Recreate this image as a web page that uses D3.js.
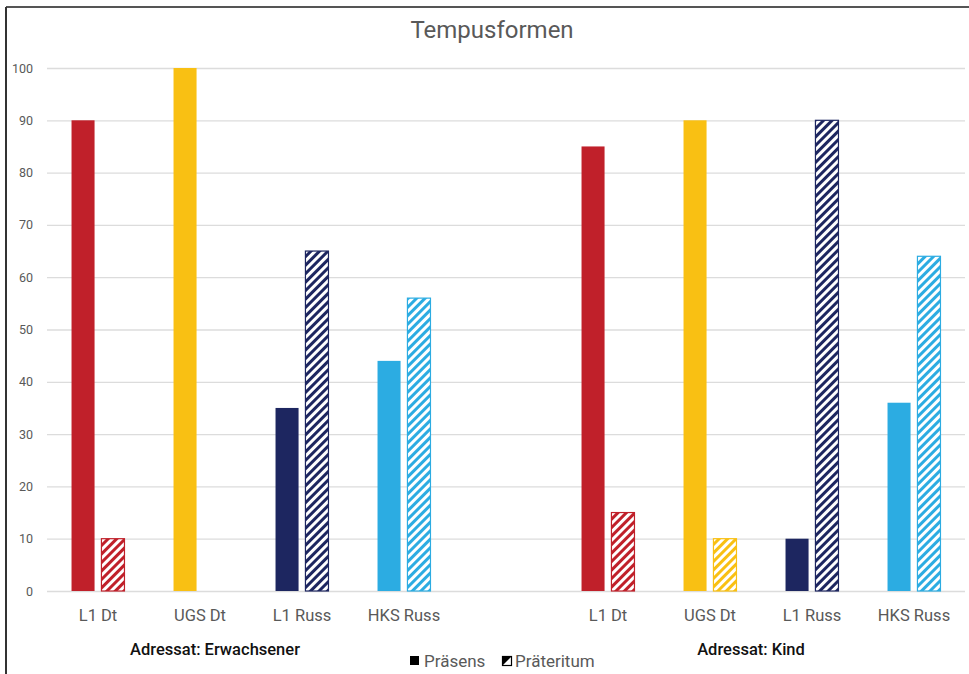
<!DOCTYPE html>
<html>
<head>
<meta charset="utf-8">
<script src="https://cdn.jsdelivr.net/npm/d3@7"></script>
<style>
  body { margin: 0; background: #fff; }
  svg { display: block; font-family: Roboto, "Open Sans", sans-serif; }
</style>
</head>
<body>
<svg id="chart"></svg>
<script>
// Data
const groups = ["Adressat: Erwachsener", "Adressat: Kind"];
const speakers = ["L1 Dt", "UGS Dt", "L1 Russ", "HKS Russ"];
const tenses = ["Präsens", "Präteritum"];
const praesens = [90, 100, 35, 44, 85, 90, 10, 36];
const praeteritum = [10, 0, 65, 56, 15, 10, 90, 64];
const speakerColors = ["#C0202A", "#F9C013", "#1D2660", "#2CACE2"];
const yTicks = [0, 10, 20, 30, 40, 50, 60, 70, 80, 90, 100];

const w = 969;
const h = 674;
const plotLeft = 47, plotRight = 965, plotTop = 68, plotBottom = 591;
const groupLabelX = [215, 751];

const svg = d3.select("#chart").attr("width", w).attr("height", h);

// one slot per speaker and group, with an empty slot between the groups
const slots = [];
groups.forEach((g, gi) => {
  if (gi > 0) slots.push("gap" + gi);
  speakers.forEach((s) => slots.push(g + "|" + s));
});

const rows = [];
groups.forEach((g, gi) => {
  speakers.forEach((s, si) => {
    const i = gi * speakers.length + si;
    rows.push({ slot: g + "|" + s, group: g, speaker: s, si: si, tense: tenses[0], value: praesens[i] });
    rows.push({ slot: g + "|" + s, group: g, speaker: s, si: si, tense: tenses[1], value: praeteritum[i] });
  });
});

const x0 = d3.scaleBand().domain(slots).range([plotLeft, plotRight]).paddingInner(0);
const x1 = d3.scaleBand().domain(tenses).range([0, x0.bandwidth()])
  .paddingInner(0.23).paddingOuter(0.82);
const y = d3.scaleLinear().domain([0, 100]).range([plotBottom, plotTop]);

// hatch patterns
const defs = svg.append("defs");
speakerColors.forEach((c, i) => {
  const p = defs.append("pattern")
    .attr("id", "hatch" + i)
    .attr("patternUnits", "userSpaceOnUse")
    .attr("width", 6).attr("height", 6)
    .attr("patternTransform", "rotate(45)");
  p.append("rect").attr("width", 6).attr("height", 6).attr("fill", "#fff");
  p.append("rect").attr("width", 3).attr("height", 6).attr("fill", c);
});

// outer frame (top and left only)
svg.append("line").attr("x1", 6).attr("x2", w).attr("y1", 7).attr("y2", 7)
  .attr("stroke", "#555").attr("stroke-width", 2);
svg.append("line").attr("x1", 6).attr("x2", 6).attr("y1", 7).attr("y2", h)
  .attr("stroke", "#333").attr("stroke-width", 2);

// title
svg.append("text")
  .attr("x", 492).attr("y", 38)
  .attr("text-anchor", "middle")
  .attr("font-size", 24)
  .attr("fill", "#595959")
  .text("Tempusformen");

// y axis with gridlines
const yAxis = svg.append("g")
  .attr("transform", "translate(" + plotLeft + ",0)")
  .call(d3.axisLeft(y).tickValues(yTicks).tickSize(-(plotRight - plotLeft)).tickPadding(14));
yAxis.select(".domain").remove();
yAxis.selectAll(".tick line").attr("stroke", "#DCDCDC").attr("stroke-width", 1.3);
yAxis.selectAll(".tick text").attr("font-size", 12.5).attr("fill", "#595959")
  .attr("font-family", "Roboto, sans-serif");

// bars
svg.append("g")
  .selectAll("rect")
  .data(rows.filter((d) => d.value > 0))
  .enter()
  .append("rect")
  .attr("x", (d) => x0(d.slot) + x1(d.tense))
  .attr("y", (d) => y(d.value))
  .attr("width", x1.bandwidth())
  .attr("height", (d) => y(0) - y(d.value))
  .attr("fill", (d) => d.tense === tenses[0] ? speakerColors[d.si] : "url(#hatch" + d.si + ")")
  .attr("stroke", (d) => d.tense === tenses[0] ? "none" : speakerColors[d.si])
  .attr("stroke-width", 1.2);

// x axis labels
const xAxis = svg.append("g")
  .attr("transform", "translate(0," + plotBottom + ")")
  .call(d3.axisBottom(x0).tickValues(slots.filter((s) => !s.startsWith("gap")))
    .tickFormat((s) => s.split("|")[1]).tickSize(0).tickPadding(18));
xAxis.select(".domain").remove();
xAxis.selectAll(".tick text").attr("font-size", 16.5).attr("fill", "#595959")
  .attr("font-family", "Roboto, sans-serif");

// group labels
groups.forEach((g, gi) => {
  svg.append("text")
    .attr("x", groupLabelX[gi])
    .attr("y", 655)
    .attr("text-anchor", "middle")
    .attr("font-size", 16.5)
    .attr("font-weight", 500)
    .attr("fill", "#111")
    .text(g);
});

// legend
const legend = svg.append("g").attr("transform", "translate(410,667)");
legend.append("rect").attr("x", 0).attr("y", -11).attr("width", 9).attr("height", 9).attr("fill", "#000");
legend.append("text").attr("x", 14).attr("y", 0).attr("font-size", 17).attr("fill", "#595959").text(tenses[0]);
const lg2 = legend.append("g").attr("transform", "translate(92,0)");
lg2.append("rect").attr("x", 0.5).attr("y", -10.5).attr("width", 9).attr("height", 9)
  .attr("fill", "#fff").attr("stroke", "#000").attr("stroke-width", 1.2);
lg2.append("path").attr("d", "M0.5,-1.5 L0.5,-10.5 L9.5,-10.5 Z").attr("fill", "#000");
lg2.append("text").attr("x", 13).attr("y", 0).attr("font-size", 17).attr("fill", "#595959").text(tenses[1]);
</script>
</body>
</html>
